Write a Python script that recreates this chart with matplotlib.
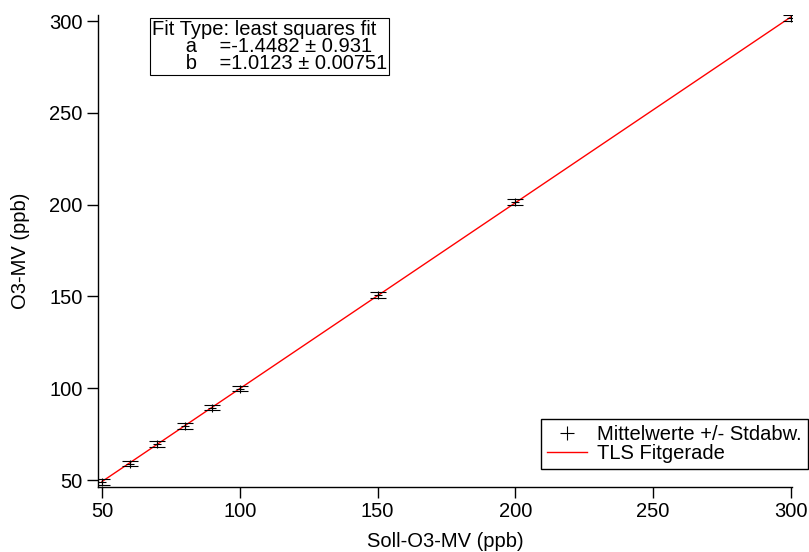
import numpy as np
import matplotlib.pyplot as plt
from matplotlib.lines import Line2D

plt.rcParams['font.family'] = ['Liberation Sans', 'DejaVu Sans']

# measured O3 values vs. set values
soll = [50, 60, 70, 80, 90, 100, 150, 200, 300]
mittel = [49.0, 59.0, 69.5, 79.5, 89.5, 99.8, 150.6, 201.6, 301.6]
stdabw = [1.8, 1.6, 1.5, 1.5, 1.6, 1.5, 1.6, 1.6, 1.8]

# fit coefficients
fit_a = -1.4482
fit_b = 1.0123
fit_x = [50, 300]

FS = 14.5
W, H = 809, 552
fig = plt.figure(figsize=(W / 100, H / 100), dpi=100)
ax = fig.add_axes([98 / W, 1 - 487 / H, (792 - 98) / W, (487 - 15) / H])

fx = np.array(fit_x, dtype=float)
ax.plot(fx, fit_a + fit_b * fx, color='#ff0000', lw=1.0, zorder=2)
ax.errorbar(soll, mittel, yerr=stdabw, fmt='+', color='black', ms=6, mew=0.8,
            elinewidth=0.8, capsize=6, capthick=1.0, zorder=3)

ax.set_xlim(48.55, 300.4)
ax.set_ylim(46.2, 303.3)
ax.set_xticks([50, 100, 150, 200, 250, 300])
ax.set_yticks([50, 100, 150, 200, 250, 300])
for s in ['top', 'right']:
    ax.spines[s].set_visible(False)
for s in ['left', 'bottom']:
    ax.spines[s].set_linewidth(1.0)
ax.tick_params(direction='out', length=8, width=1.0, labelsize=FS, pad=3)

ax.set_xlabel('Soll-O3-MV (ppb)', fontsize=FS, labelpad=8)
ax.set_ylabel('O3-MV (ppb)', fontsize=FS, labelpad=14)

# fit result box
box_txt = ('Fit Type: least squares fit\n'
           '      a    =-1.4482 \u00b1 0.931\n'
           '      b    =1.0123 \u00b1 0.00751')
fig.text(152 / W, 1 - 20 / H, box_txt, fontsize=FS, va='top', ha='left',
         linespacing=0.88,
         bbox=dict(boxstyle='square,pad=0.08', fc='white', ec='black', lw=0.8))

handles = [Line2D([], [], ls='none', marker='+', color='black', ms=10, mew=0.8),
           Line2D([], [], color='#ff0000', lw=1.0)]
ax.legend(handles, ['Mittelwerte +/- Stdabw.', 'TLS Fitgerade'],
          loc='lower right', bbox_to_anchor=(808 / W, 1 - 469 / H),
          bbox_transform=fig.transFigure, fontsize=FS, frameon=True,
          fancybox=False, edgecolor='black', framealpha=1, borderpad=0.3,
          handlelength=2.0, handletextpad=0.5, labelspacing=0.0,
          borderaxespad=0)

fig.savefig('out.png', dpi=100)
